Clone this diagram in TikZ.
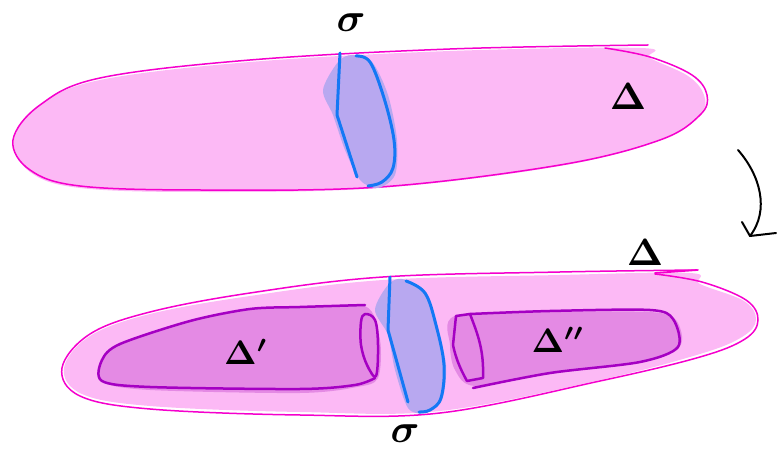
\documentclass[tikz,border=0pt]{standalone}
\usetikzlibrary{arrows.meta}
\definecolor{pinkfill}{RGB}{252,185,245}
\definecolor{magline}{RGB}{245,0,205}
\definecolor{lav}{RGB}{184,168,240}
\definecolor{blueS}{RGB}{20,120,245}
\definecolor{purpfill}{RGB}{228,138,228}
\definecolor{purpS}{RGB}{165,0,195}
\tikzset{
  outl/.style={draw=magline,line width=1.5pt,line cap=round,line join=round},
  blob/.style={fill=pinkfill},
  cell/.style={fill=lav},
  cellline/.style={draw=blueS,line width=3pt,line cap=round,line join=round},
  inner/.style={fill=purpfill},
  innerline/.style={draw=purpS,line width=2.5pt,line cap=round,line join=round},
  lbl/.style={text=black,inner sep=0pt,font=\boldmath},
}
\begin{document}
\begin{tikzpicture}[x=1pt,y=-1pt]
\useasboundingbox (0,0) rectangle (777,454);
% ---------- top simplex ----------
\path[blob] plot[smooth cycle,tension=0.6] coordinates {(640,48) (450,51) (250,62) (100,80) (40,105) (14,140) (30,172) (80,188) (200,192) (380,188) (560,166) (660,140) (700,114) (704,95) (688,76) (650,58)};
\draw[outl] plot[smooth,tension=0.6] coordinates {(648,45) (450,49) (250,60) (100,78) (40,105) (13,140) (30,170) (80,186) (200,190) (380,187) (560,165) (660,140) (700,115) (707,95) (692,75) (650,57) (605,48)};
% sigma cell top
\path[cell] plot[smooth cycle,tension=0.5] coordinates {(352,55) (372,62) (388,95) (397,140) (395,175) (378,188) (360,180) (345,150) (333,115) (323,90) (338,62)};
\draw[cellline] (340,53) -- (337,115) -- (357,177);
\draw[cellline] plot[smooth,tension=0.6] coordinates {(356,56) (370,62) (384,98) (394,140) (393,168) (382,182) (368,186)};
\node[lbl,scale=4] (s1) at (351,23) {$\sigma$};
\node[lbl,scale=3.8] (D1) at (628,96) {$\Delta$};
% ---------- arrow ----------
\draw[line width=2pt,line cap=round] (738,150) .. controls (760,175) and (770,210) .. (750,236);
\draw[line width=2pt,line cap=round,line join=round] (742,222) -- (750,236) -- (776,233);
% ---------- bottom simplex ----------
\path[blob] plot[smooth cycle,tension=0.6] coordinates {(690,273) (560,275) (383,280) (250,296) (150,314) (90,336) (64,368) (82,394) (150,406) (300,412) (440,411) (600,380) (700,354) (742,337) (756,320) (744,301) (700,284)};
\draw[outl] plot[smooth,tension=0.6] coordinates {(698,270) (560,272) (383,277) (250,293) (150,312) (90,334) (62,368) (80,396) (150,409) (300,415) (440,413) (600,381) (700,357) (745,339) (758,320) (746,300) (702,282) (655,274)};
% Delta' inner
\path[inner] plot[smooth cycle,tension=0.5] coordinates {(365,306) (300,308) (250,310) (190,321) (120,344) (100,362) (102,382) (150,390) (300,393) (357,387) (378,378) (380,340)};
\draw[innerline] plot[smooth,tension=0.5] coordinates {(365,305) (300,307) (250,309) (190,321) (120,344) (102,360) (102,381) (150,387) (300,389) (355,385) (375,378)};
\draw[innerline] plot[smooth cycle,tension=0.6] coordinates {(365,314) (375,320) (378,345) (376,376) (367,365) (361,345) (361,322)};
% Delta'' inner
\path[inner] plot[smooth cycle,tension=0.5] coordinates {(455,316) (550,312) (650,312) (676,320) (680,346) (640,362) (550,374) (475,386) (455,370) (450,345)};
\draw[innerline] (467,381) -- (483,378) .. controls (484,350) and (478,335) .. (470,314) -- (456,316) -- (453,345) .. controls (456,360) and (462,372) .. (467,381);
\draw[innerline] plot[smooth,tension=0.5] coordinates {(470,314) (550,311) (650,310) (673,319) (678,347) (640,362) (550,373) (473,388)};
% sigma cell bottom
\path[cell] plot[smooth cycle,tension=0.5] coordinates {(402,279) (425,292) (437,330) (446,365) (442,400) (425,413) (408,408) (395,370) (388,335) (375,310) (388,285)};
\draw[cellline] (390,277) -- (388,330) -- (408,402);
\draw[cellline] plot[smooth,tension=0.6] coordinates {(406,281) (425,293) (436,325) (444,365) (441,398) (430,410) (419,412)};
% labels
\node[lbl,scale=3.8] (D2) at (645,252) {$\Delta$};
\draw[magline,line width=1.8pt,line cap=round] (655,273) -- (697,270);
\node[lbl,scale=3.4] (Dp) at (246,352) {$\Delta'$};
\node[lbl,scale=3.4] (Dpp) at (558,340) {$\Delta''$};
\node[lbl,scale=4] (s2) at (405,434) {$\sigma$};
\end{tikzpicture}
\end{document}
